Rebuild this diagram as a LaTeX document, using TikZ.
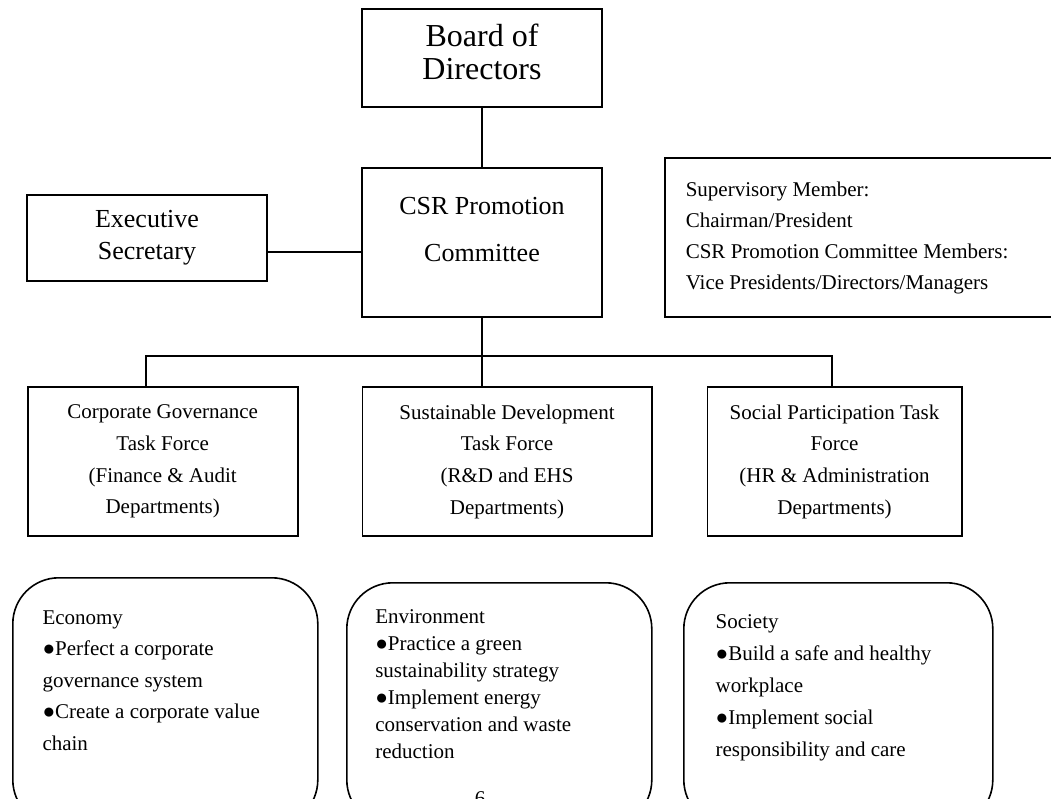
\documentclass[tikz,border=0pt]{standalone}
\usepackage{fontspec}
\setmainfont{Liberation Serif}
\begin{document}
\begin{tikzpicture}[x=1pt,y=-1pt,
  line width=1.6pt,
  box/.style={draw, rectangle, inner sep=0pt},
  roundbox/.style={draw, rectangle, rounded corners=46pt, inner sep=0pt, anchor=north west},
  bigtext/.style={font=\fontsize{32}{33}\selectfont, align=center, inner sep=0pt},
  midtext/.style={align=center, inner sep=0pt},
  smalltext/.style={font=\fontsize{21}{31.7}\selectfont, align=center, inner sep=0pt},
  listtext/.style={align=left, inner sep=0pt, anchor=north west}]
\useasboundingbox (0,0) rectangle (1051,798);

% top of the hierarchy
\node[box, minimum width=240pt, minimum height=98pt] (board) at (482,58) {};
\node[bigtext] (boardtxt) at (482,52) {Board of\\Directors};

\node[box, minimum width=240pt, minimum height=149pt] (csr) at (482,242.5) {};
\node[midtext, font=\fontsize{26}{47}\selectfont] (csrtxt) at (482,230) {CSR Promotion\\Committee};

\node[box, minimum width=240pt, minimum height=86pt,
      font=\fontsize{26}{32}\selectfont, align=center] (exec) at (147,238) {Executive\\Secretary};

% membership note (runs past the right edge)
\node[box, minimum width=415pt, minimum height=159pt] (sup) at (872.5,237.5) {};
\node[listtext, font=\fontsize{21}{31}\selectfont] (suptxt) at (685,181.5)
  {Supervisory Member:\\Chairman/President\\CSR Promotion Committee Members:\\Vice Presidents/Directors/Managers};

% task forces
\node[box, minimum width=270pt, minimum height=149pt, smalltext] (cg) at (162.7,461.5)
  {Corporate Governance\\Task Force\\(Finance \& Audit\\Departments)};
\node[box, minimum width=289.4pt, minimum height=149pt, smalltext] (sd) at (507,461.5)
  {Sustainable Development\\Task Force\\(R\&D and EHS\\Departments)};
\node[box, minimum width=254.4pt, minimum height=149pt, smalltext] (sp) at (834.5,461.5)
  {Social Participation Task\\Force\\(HR \& Administration\\Departments)};

% connectors
\coordinate (execlink) at (300,252);
\coordinate (busL) at (146,356);
\coordinate (busR) at (832,356);
\draw (board.south) -- (csr.north);
\draw (exec.east |- execlink) -- (csr.west |- execlink);
\draw (csr.south) -- (csr.south |- sd.north);
\draw (cg.north -| busL) -- (busL) -- (busR) -- (sp.north -| busR);

% focus areas
\node[roundbox, minimum width=305pt, minimum height=248pt] (eco) at (12,577) {};
\node[listtext, font=\fontsize{21}{31.5}\selectfont] (ecotxt) at (41.7,609.5)
  {Economy\\●Perfect a corporate\\governance system\\●Create a corporate value\\chain};

\node[roundbox, minimum width=305pt, minimum height=243pt] (env) at (346,582) {};
\node[listtext, font=\fontsize{21}{27}\selectfont] (envtxt) at (374.5,608.5)
  {Environment\\●Practice a green\\sustainability strategy\\●Implement energy\\conservation and waste\\reduction};

\node[roundbox, minimum width=309pt, minimum height=243pt] (soc) at (683,582) {};
\node[listtext, font=\fontsize{21}{32}\selectfont] (soctxt) at (714.8,613.5)
  {Society\\●Build a safe and healthy\\workplace\\●Implement social\\responsibility and care};

% page number at the foot of the page
\node[inner sep=0pt, anchor=base, font=\fontsize{21}{21}\selectfont] (pagenum) at (480,805) {6};
\end{tikzpicture}
\end{document}
